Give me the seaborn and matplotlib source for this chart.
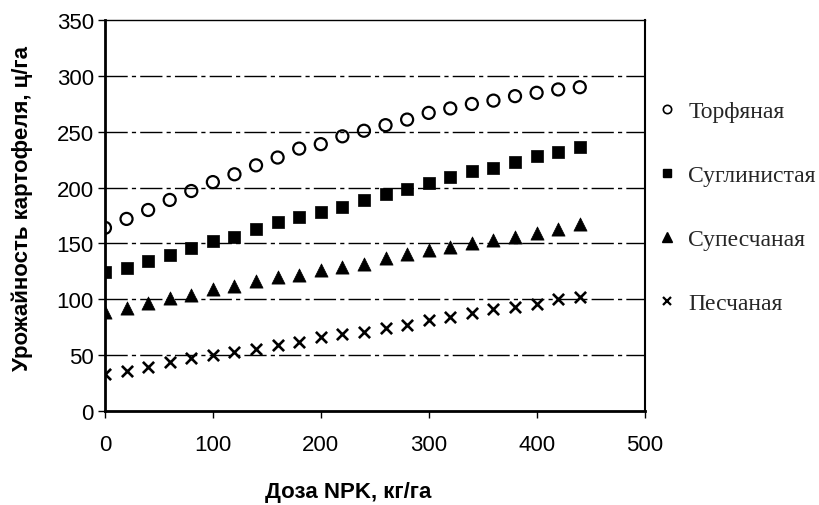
import matplotlib
matplotlib.use("Agg")
import matplotlib.pyplot as plt
import seaborn as sns
import pandas as pd
from matplotlib.lines import Line2D

dose = [0, 20, 40, 60, 80, 100, 120, 140, 160, 180, 200, 220,
        240, 260, 280, 300, 320, 340, 360, 380, 400, 420, 440]
torf = [164, 172, 180, 189, 197, 205, 212, 220, 227, 235, 239, 246,
        251, 256, 261, 267, 271, 275, 278, 282, 285, 288, 290]
sugl = [124, 128, 134, 140, 146, 152, 156, 163, 169, 174, 178, 183,
        189, 194, 199, 204, 210, 215, 218, 223, 228, 232, 236]
supes = [89, 92, 97, 101, 104, 109, 112, 116, 120, 122, 126, 129,
         132, 137, 141, 144, 147, 150, 153, 156, 159, 163, 167]
pesch = [33, 36, 39, 44, 47, 50, 53, 55, 59, 62, 66, 69,
         71, 74, 77, 81, 84, 88, 91, 93, 96, 100, 102]

names = ["Торфяная", "Суглинистая", "Супесчаная", "Песчаная"]
series = [torf, sugl, supes, pesch]
x_ticks = [0, 100, 200, 300, 400, 500]
y_ticks = [0, 50, 100, 150, 200, 250, 300, 350]

sns.set_theme(style="white")
plt.rcParams['font.family'] = ['Liberation Sans', 'DejaVu Sans']

fig = plt.figure(figsize=(8.2, 5.06), dpi=100)
ax = fig.add_axes([0.128, 0.186, 0.658, 0.772])

styles = [
    dict(marker="o", facecolor="none", edgecolor="black", linewidth=1.6, s=75),
    dict(marker="s", color="black", edgecolor="black", linewidth=0.5, s=75),
    dict(marker="^", color="black", edgecolor="black", linewidth=0.5, s=90),
    dict(marker="x", color="black", linewidth=1.9, s=65),
]

for name, vals, st in zip(names, series, styles):
    df = pd.DataFrame({"x": dose, "y": vals})
    sns.scatterplot(data=df, x="x", y="y", ax=ax, zorder=3, **st)

ax.set_xlim(0, 500)
ax.set_ylim(0, 350)
ax.set_xticks(x_ticks)
ax.set_yticks(y_ticks)
ax.tick_params(axis="both", labelsize=16, colors="black", length=5, width=1,
               direction="out")
ax.tick_params(axis="x", bottom=True, pad=12)
ax.tick_params(axis="y", left=True, pad=3)

for y in y_ticks[1:-1]:
    ax.axhline(y, color="black", linewidth=1.0, linestyle=(0, (16, 3, 3, 3)),
               zorder=1)

for side, lw in [("left", 2.0), ("bottom", 2.0), ("right", 1.5), ("top", 1.0)]:
    ax.spines[side].set_visible(True)
    ax.spines[side].set_color("black")
    ax.spines[side].set_linewidth(lw)

ax.set_xlabel("Доза NPK, кг/га", fontsize=16, fontweight="bold", color="black")
ax.set_ylabel("Урожайность картофеля, ц/га", fontsize=16, fontweight="bold",
              color="black")
ax.xaxis.set_label_coords((348 - 105) / 540, -(482 - 412) / 391)
ax.yaxis.set_label_coords(-(105 - 33) / 540, (412 - 208) / 391)

handles = [
    Line2D([], [], linestyle="none", marker="o", markerfacecolor="none",
           markeredgecolor="black", markersize=6, markeredgewidth=1.2),
    Line2D([], [], linestyle="none", marker="s", color="black", markersize=6),
    Line2D([], [], linestyle="none", marker="^", color="black", markersize=7),
    Line2D([], [], linestyle="none", marker="x", color="black", markersize=6,
           markeredgewidth=1.6),
]
leg = fig.legend(handles, names, loc="upper left",
                 bbox_to_anchor=(648 / 820, 1 - 92 / 506), frameon=False,
                 prop={"family": "Liberation Serif", "size": 17},
                 labelspacing=1.8, handlelength=0.8, handletextpad=0.5,
                 borderaxespad=0)

fig.savefig("out.png", dpi=100, facecolor="white")
